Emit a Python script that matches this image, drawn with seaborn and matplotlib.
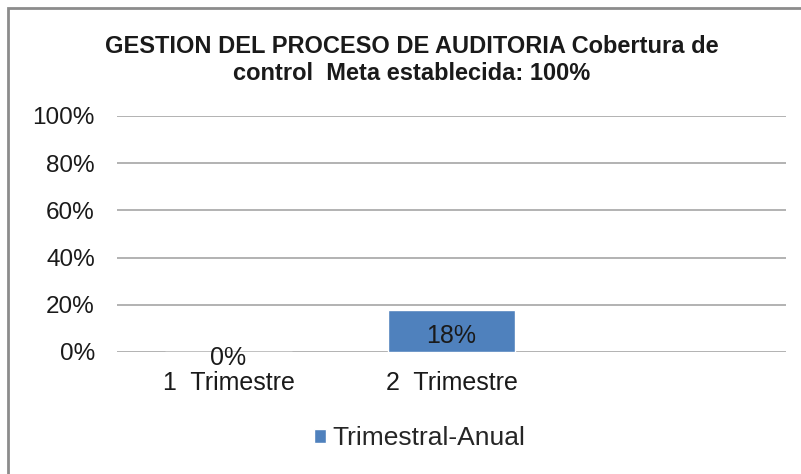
import matplotlib
matplotlib.use("Agg")
import matplotlib.pyplot as plt
import seaborn as sns
from matplotlib.patches import Rectangle

# data
categories = ["1  Trimestre", "2  Trimestre"]
values = [0.00, 0.18]
axis_slots = categories + [" "]   # third empty slot on the axis
series_name = "Trimestral-Anual"
y_ticks = [0, 0.2, 0.4, 0.6, 0.8, 1.0]
y_tick_labels = ["0%", "20%", "40%", "60%", "80%", "100%"]

sns.set_theme(style="white")
plt.rcParams["font.family"] = ["Liberation Sans", "DejaVu Sans"]

fig = plt.figure(figsize=(8.01, 4.74), dpi=100)
ax = fig.add_axes([117 / 801, 1 - 352 / 474, (786 - 117) / 801, (352 - 116) / 474])

sns.barplot(x=categories, y=values, order=axis_slots, color="#4F81BD",
            width=0.57, saturation=1, ax=ax, label=series_name)

texts = ax.bar_label(ax.containers[0], labels=[f"{v:.0%}" for v in values],
                     label_type="center", fontsize=18, color="#1a1a1a")
# value labels sit a little lower in the original
for t in texts:
    t.xyann = (0, -4)

ax.set_ylim(0, 1)
ax.set_yticks(y_ticks)
ax.set_yticklabels(y_tick_labels, fontsize=17.5, color="#1a1a1a")
ax.tick_params(axis="x", labelsize=18, colors="#1a1a1a", length=0, pad=14)
ax.tick_params(axis="y", length=0, pad=16)
ax.yaxis.grid(True, color="#a6a6a6", linewidth=1.2)
ax.set_axisbelow(True)
for s in ax.spines.values():
    s.set_visible(False)
ax.set_xlabel("")
ax.set_ylabel("")
if ax.get_legend():
    ax.get_legend().remove()

fig.text(412 / 801, 1 - 60 / 474,
         "GESTION DEL PROCESO DE AUDITORIA Cobertura de\ncontrol  Meta establecida: 100%",
         ha="center", va="center", fontsize=17, fontweight="bold", linespacing=1.2,
         color="#1a1a1a")

handles, labels = ax.get_legend_handles_labels()
fig.legend(handles[:1], [series_name], loc="center",
           bbox_to_anchor=(420 / 801, 1 - 438 / 474), frameon=False,
           fontsize=19, handlelength=0.45, handleheight=0.45, handletextpad=0.25)

# chart frame (only left and top edges show in the crop)
fig.patches.append(Rectangle((8 / 801, -0.1), 1.2, 1 - 8 / 474 + 0.1,
                             transform=fig.transFigure, fill=False,
                             edgecolor="#8c8c8c", linewidth=2))

fig.savefig("out.png", dpi=100)
